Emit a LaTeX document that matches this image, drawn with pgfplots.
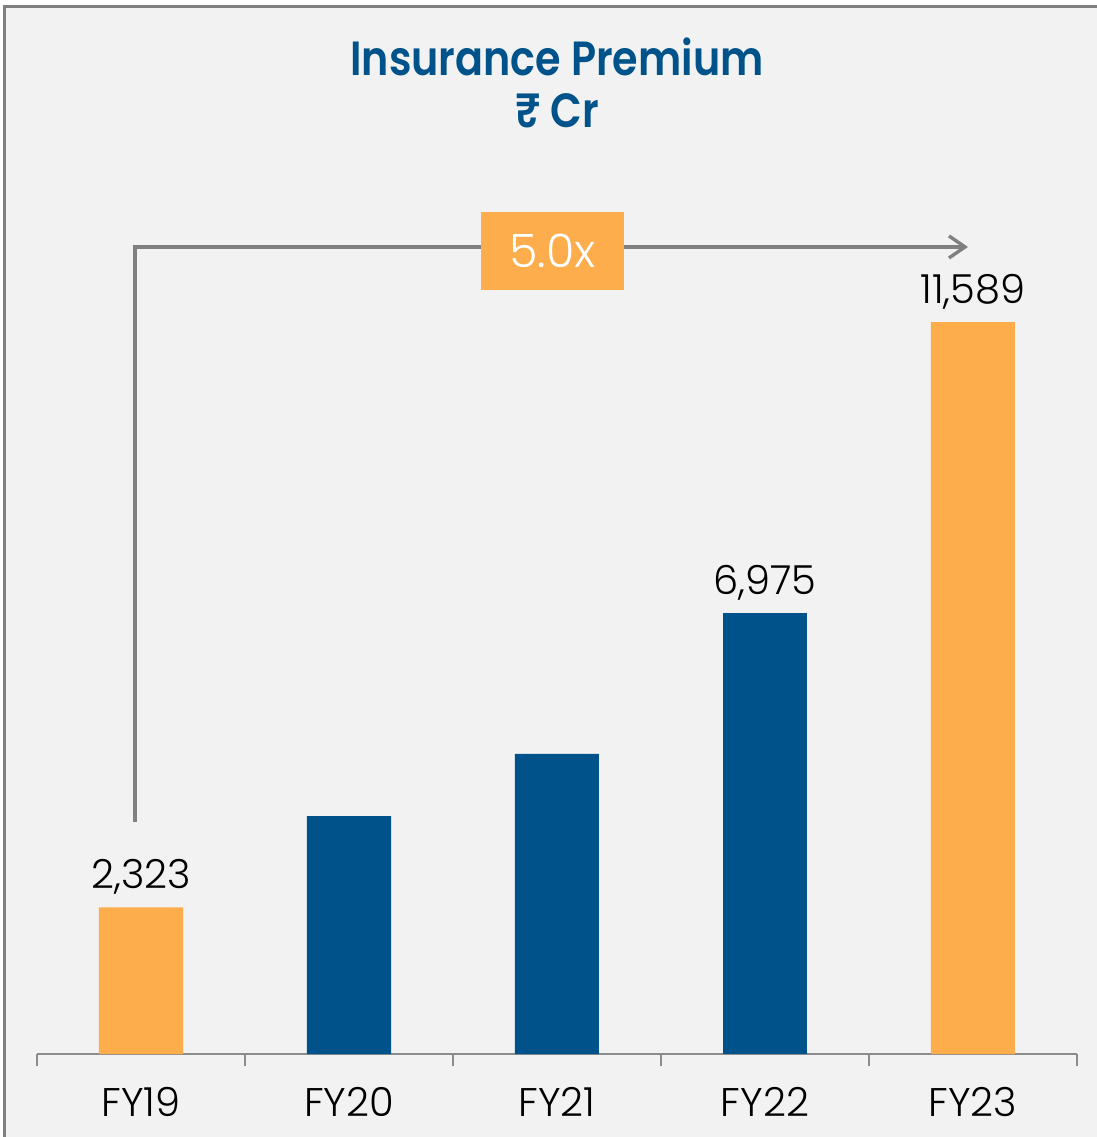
\documentclass[border=0pt]{standalone}
\usepackage{pgfplots}
\pgfplotsset{compat=1.18}
\usetikzlibrary{arrows.meta}
\usepackage{fontspec}
\setmainfont{Poppins Light}
\newfontfamily\titlefont{Poppins SemiBold}[FakeStretch=0.86]
\definecolor{bgc}{HTML}{F2F2F2}
\definecolor{orb}{HTML}{FDAD4C}
\definecolor{blb}{HTML}{00528A}
\definecolor{grl}{HTML}{808080}
\definecolor{axg}{HTML}{8C8C8C}
\begin{document}
\begin{tikzpicture}
\useasboundingbox (0pt,0pt) rectangle (548.5pt,568.5pt);
\fill[white] (0pt,0pt) rectangle (548.5pt,568.5pt);
\fill[bgc] (2.5pt,0pt) rectangle (548.5pt,565pt);
\draw[grl, line width=1.5pt] (2pt,0pt) -- (2pt,565.25pt) -- (548.5pt,565.25pt);
\node[text=blb, font=\titlefont\fontsize{24}{28}\selectfont] at (278.5pt,540pt) {Insurance Premium};
\node[text=blb, font=\titlefont\fontsize{24}{28}\selectfont] at (278.5pt,513pt) {₹ Cr};
\begin{axis}[
  at={(18.5pt,41.5pt)}, anchor=south west,
  scale only axis, width=520pt, height=426.35pt,
  xmin=-0.5, xmax=4.5, ymin=0, ymax=13500,
  axis y line=none, axis x line*=bottom,
  x axis line style={axg, line width=1pt, -},
  xtick={0,1,2,3,4},
  xticklabels={FY19,FY20,FY21,FY22,FY23},
  minor xtick={-0.5,0.5,1.5,2.5,3.5,4.5},
  major tick length=0pt, minor tick length=6pt,
  tick align=outside,
  every tick/.style={axg, line width=1pt},
  xticklabel style={font=\fontsize{20}{24}\selectfont, text=black, anchor=base, yshift=-31pt},
  clip=false,
  ybar, bar width=42pt,
  every axis plot/.append style={bar shift=0pt, draw=none},
  /pgf/number format/assume math mode=true,
  nodes near coords style={font=\fontsize{20}{24}\selectfont, text=black, anchor=base, yshift=9.5pt, inner sep=0pt},
]
\addplot[fill=orb, nodes near coords={\pgfmathprintnumber[fixed, 1000 sep={,}]{\pgfplotspointmeta}}] coordinates {(0,2323) (4,11589)};
\addplot[fill=blb] coordinates {(1,3768) (2,4750)};
\addplot[fill=blb, nodes near coords={\pgfmathprintnumber[fixed, 1000 sep={,}]{\pgfplotspointmeta}}] coordinates {(3,6975)};
\draw[grl, line width=1.7pt, -{Straight Barb[length=8pt, width=11pt, line width=1.7pt]}]
  (axis cs:-0.029,3673) -- (axis cs:-0.029,12777) -- (axis cs:3.976,12777);
\node[fill=orb, text=white, minimum width=71.5pt, minimum height=39pt, inner sep=0pt, font=\fontsize{23}{28}\selectfont] at (axis cs:1.978,12713) {5.0x};
\end{axis}
\end{tikzpicture}
\end{document}
